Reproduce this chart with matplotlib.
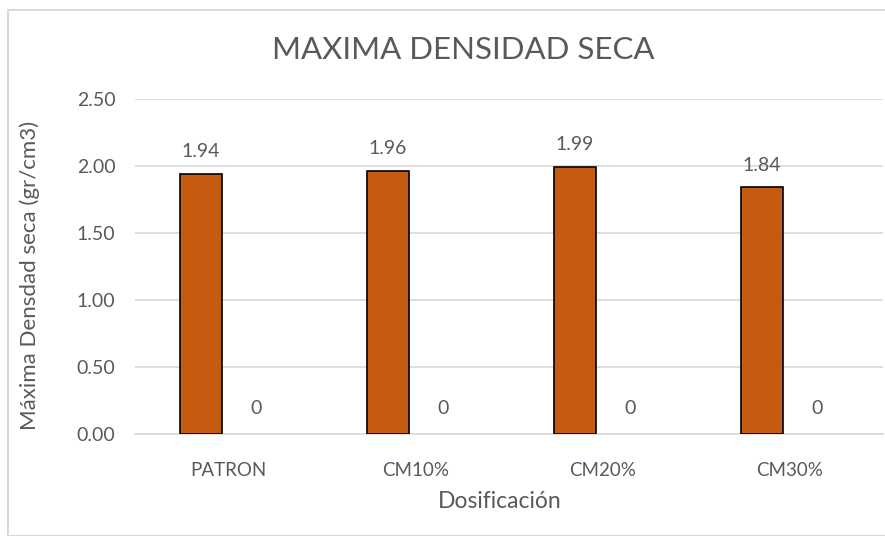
import numpy as np
import matplotlib.pyplot as plt
from matplotlib.patches import Rectangle

# datos
categorias = ["PATRON", "CM10%", "CM20%", "CM30%"]
densidad = [1.94, 1.96, 1.99, 1.84]
serie2 = [0, 0, 0, 0]
yticks = [0.0, 0.5, 1.0, 1.5, 2.0, 2.5]

plt.rcParams['font.family'] = ['Lato', 'DejaVu Sans']
gris = "#595959"

fig = plt.figure(figsize=(8.85, 5.36), dpi=100)
fig.patches.append(Rectangle((8/885, 0), 1, 1 - 10/536, transform=fig.transFigure,
                             fill=False, edgecolor="#D9D9D9", linewidth=1.5))

ax = fig.add_axes([135/885, 102/536, 748/885, 335/536])
x = np.arange(len(categorias))
w = 0.22
off = 0.147
b1 = ax.bar(x - off, densidad, w, color="#C55A11", edgecolor="black", linewidth=1.2, zorder=3)
b2 = ax.bar(x + off, serie2, w, color="#C55A11", edgecolor="none", zorder=3)

for xi, v in zip(x, densidad):
    ax.annotate(f"{v:.2f}", (xi - off, v), xytext=(0, 10), textcoords="offset points",
                ha="center", va="bottom", fontsize=14, color=gris)
for xi, v in zip(x, serie2):
    ax.annotate(f"{v}", (xi + off, v), xytext=(0, 12), textcoords="offset points",
                ha="center", va="bottom", fontsize=14, color=gris)

ax.set_xlim(-0.5, len(categorias) - 0.5)
ax.set_ylim(0, 2.5)
ax.set_yticks(yticks)
ax.set_yticklabels([f"{t:.2f}" for t in yticks])
ax.set_xticks(x)
ax.set_xticklabels(categorias)
ax.tick_params(axis="y", length=0, pad=14, labelsize=14, labelcolor=gris)
ax.tick_params(axis="x", length=0, pad=20, labelsize=13.5, labelcolor=gris)
ax.grid(axis="y", color="#D9D9D9", linewidth=1.2, zorder=0)
for s in ["top", "right", "left"]:
    ax.spines[s].set_visible(False)
ax.spines["bottom"].set_color("#D9D9D9")
ax.spines["bottom"].set_linewidth(1.2)

fig.text(30/885, 1 - 275/536, "Máxima Densdad seca (gr/cm3)", rotation=90,
         ha="center", va="center", fontsize=16, color=gris)
fig.text(500/885, 1 - 501/536, "Dosificación", ha="center", va="center",
         fontsize=16.5, color=gris)
fig.text(463/885, 1 - 50/536, "MAXIMA DENSIDAD SECA", ha="center", va="center",
         fontsize=22.5, color=gris)

plt.savefig("out.png", dpi=100)
